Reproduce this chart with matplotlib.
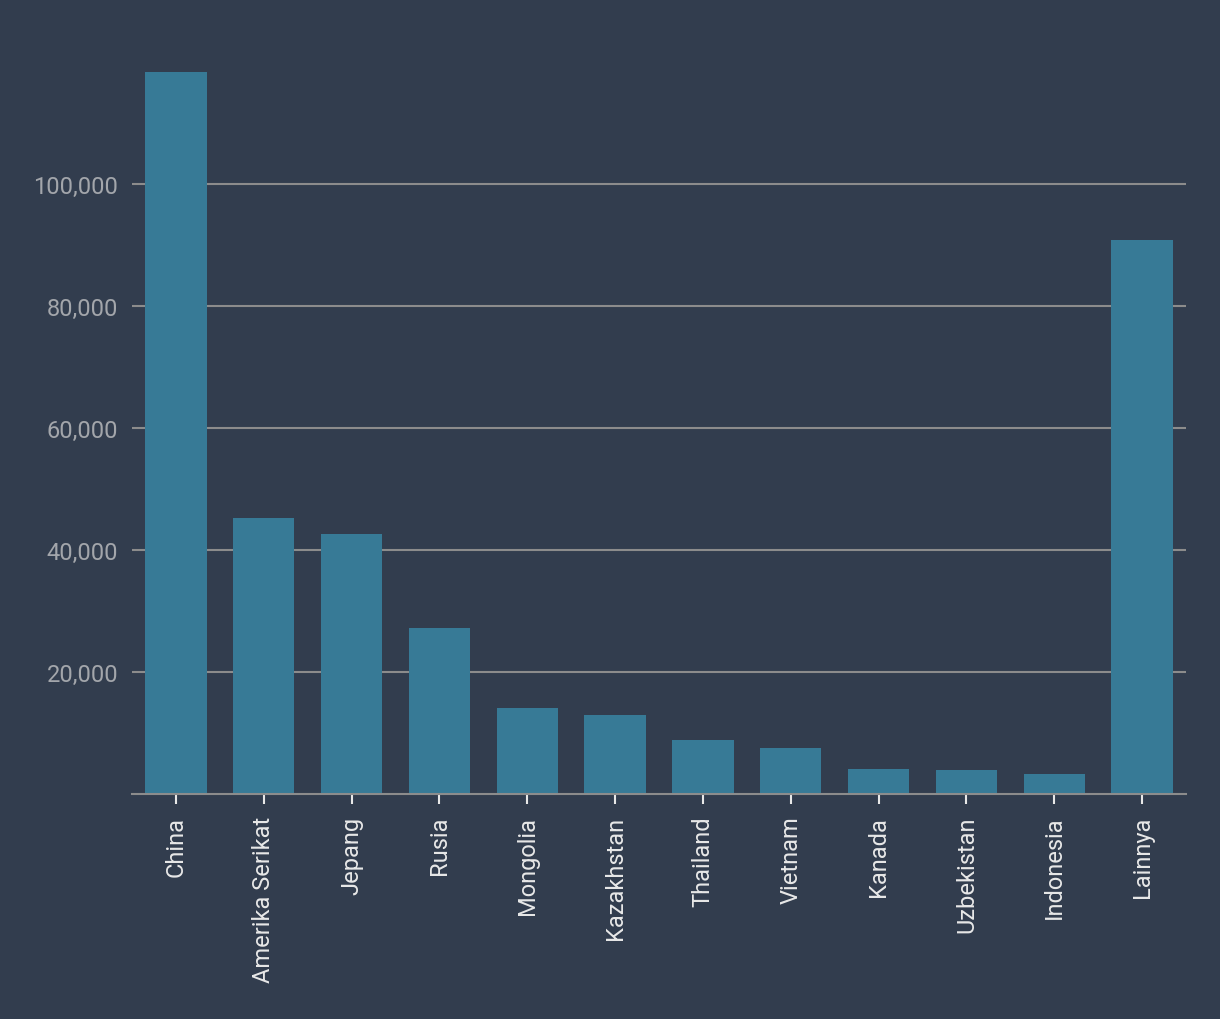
import matplotlib
matplotlib.use("Agg")
import matplotlib.pyplot as plt
from matplotlib.ticker import FuncFormatter

plt.rcParams['font.family'] = ['Roboto', 'DejaVu Sans']

# data
countries = ['China', 'Amerika Serikat', 'Jepang', 'Rusia', 'Mongolia', 'Kazakhstan',
             'Thailand', 'Vietnam', 'Kanada', 'Uzbekistan', 'Indonesia', 'Lainnya']
values = [118200, 45100, 42500, 27100, 13950, 12950, 8850, 7400, 3950, 3800, 3150, 90800]
y_ticks = [20000, 40000, 60000, 80000, 100000]

bg = '#323d4e'
bar_color = '#377a96'
grid_color = '#8c8c8c'

fig = plt.figure(figsize=(12.2, 10.2), dpi=100, facecolor=bg)
ax = fig.add_axes([132 / 1220, 225.5 / 1020, 1054 / 1220, 732 / 1020])
ax.set_facecolor(bg)

x = range(len(countries))
ax.bar(x, values, width=0.7, color=bar_color, zorder=3)

ax.set_xlim(-0.5, len(countries) - 0.5)
ax.set_ylim(0, 120000)
ax.set_yticks(y_ticks)
ax.yaxis.set_major_formatter(FuncFormatter(lambda v, p: f'{int(v):,}'))
ax.grid(axis='y', color=grid_color, linewidth=1.5, zorder=0)

ax.set_xticks(list(x))
ax.set_xticklabels(countries, rotation=90, fontsize=17, color='#e8e8e8')
ax.tick_params(axis='x', length=7, width=1.5, color='#e8e8e8', pad=9)
ax.tick_params(axis='y', length=0, pad=10, labelsize=17, labelcolor='#a3a6ab')

for s in ['top', 'right', 'left']:
    ax.spines[s].set_visible(False)
ax.spines['bottom'].set_color(grid_color)
ax.spines['bottom'].set_linewidth(1.5)
ax.spines['bottom'].set_zorder(4)

fig.savefig('out.png', dpi=100, facecolor=bg)
